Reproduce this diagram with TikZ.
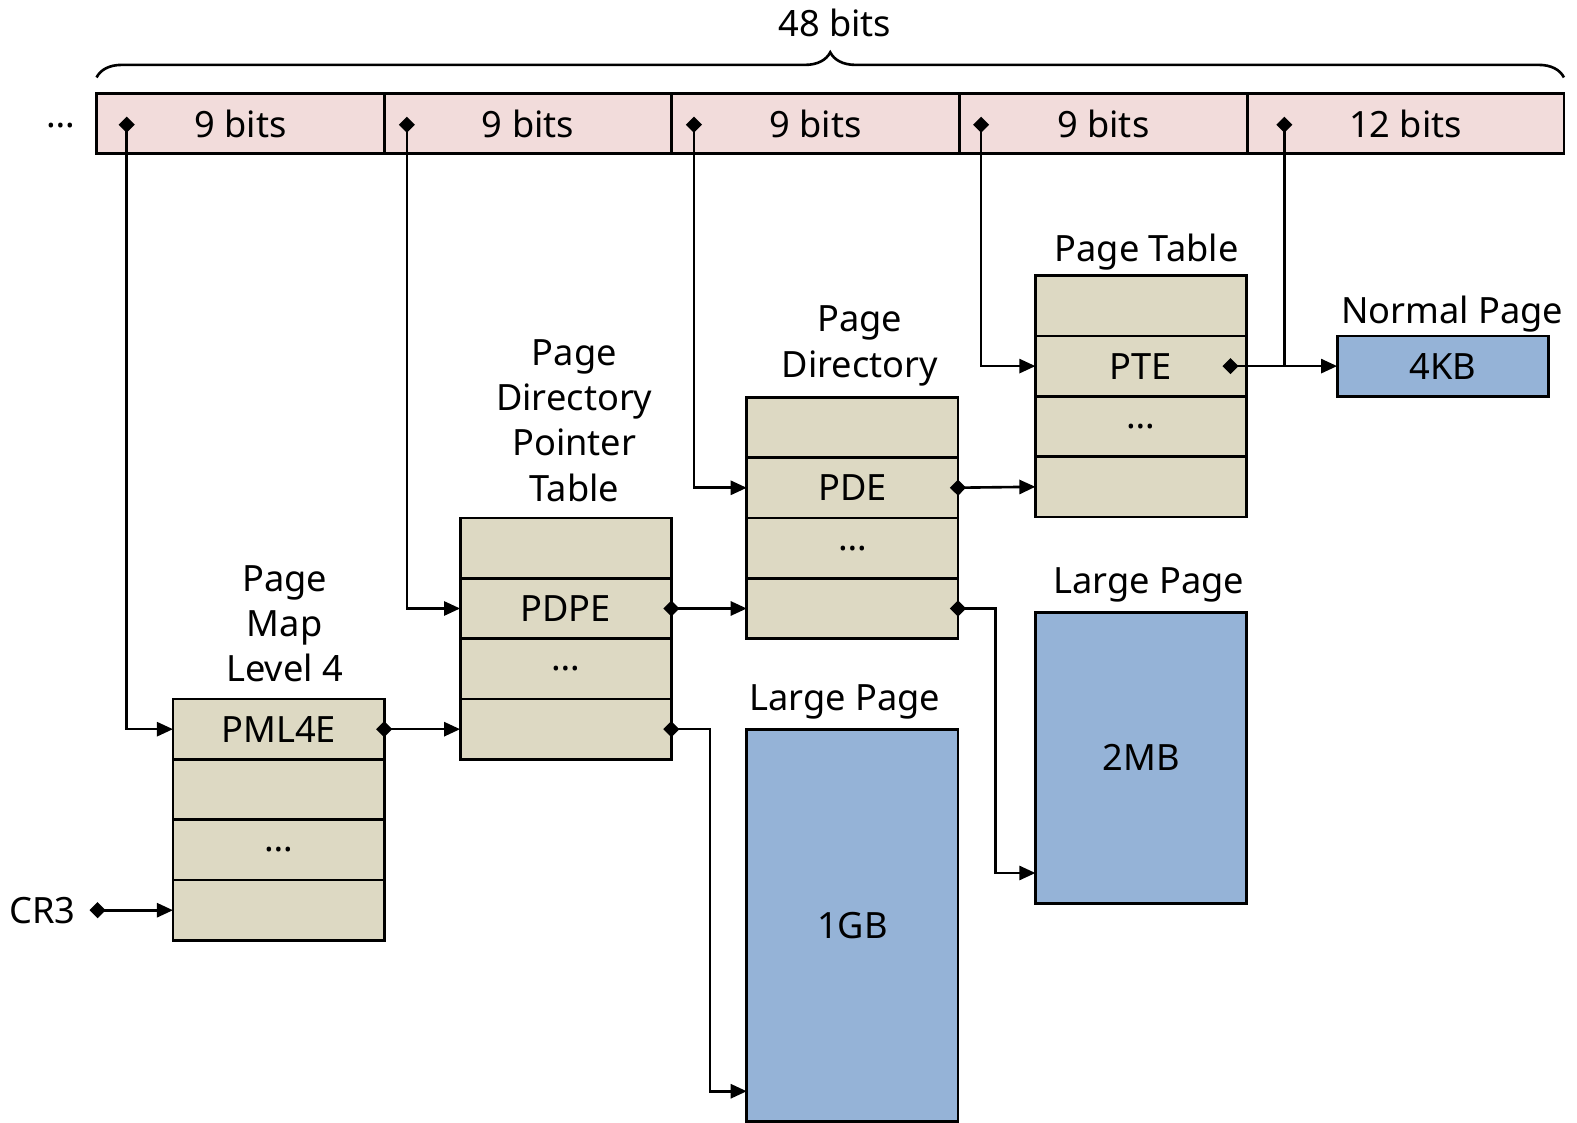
\documentclass[tikz,border=0pt]{standalone}
\usepackage{fontspec}
\setmainfont{Noto Sans}
\usetikzlibrary{arrows.meta,decorations.pathreplacing}
\definecolor{fieldpink}{HTML}{F2DCDB}
\definecolor{tabletan}{HTML}{DDD9C3}
\definecolor{pageblue}{HTML}{95B3D7}

\begin{document}
\begin{tikzpicture}[x=0.5pt,y=-0.5pt,
  every node/.style={font=\fontsize{18}{22.5}\selectfont},
  field/.style={draw, line width=1.4pt, fill=fieldpink, minimum height=30pt, inner sep=0pt, outer sep=0pt},
  entry/.style={draw, line width=1.4pt, fill=tabletan, minimum width=105pt, minimum height=30pt, inner sep=0pt, outer sep=0pt},
  page/.style={draw, line width=1.4pt, fill=pageblue, minimum width=105pt, inner sep=0pt, outer sep=0pt},
  title/.style={align=center, inner sep=0pt},
  conn/.style={line width=1.3pt, {Diamond[length=8pt,width=8pt]}-{Triangle[length=8pt,width=7pt]}},
  tap/.style={line width=1.3pt, {Diamond[length=8pt,width=8pt]}-},
]
\useasboundingbox (0,0) rectangle (1568,1116);

% virtual address fields
\node[field, minimum width=143pt] (f1) at (239,123) {9 bits};
\node[field, minimum width=143pt] (f2) at (525,123) {9 bits};
\node[field, minimum width=143pt] (f3) at (811,123) {9 bits};
\node[field, minimum width=143pt] (f4) at (1097,123) {9 bits};
\node[field, minimum width=157.5pt] (f5) at (1397.5,123) {12 bits};
\node (dots) at (60,125) {…};

% brace over the 48 address bits
\draw[line width=1.3pt, decorate, decoration={brace, amplitude=12.5pt}]
  ([yshift=8pt]f1.north west) -- ([yshift=8pt]f5.north east);
\node (width) at (830,23) {48 bits};

% Page Map Level 4
\node[entry] (pml1) at (277,725) {PML4E};
\node[entry] (pml2) at (277,785) {};
\node[entry] (pml3) at (277,845) {…};
\node[entry] (pml4) at (277,905) {};
\node[title] (tpml) at (283,620) {Page\\Map\\Level 4};

% Page Directory Pointer Table
\node[entry] (pdpt1) at (562.5,545) {};
\node[entry] (pdpt2) at (562.5,605) {PDPE};
\node[entry] (pdpt3) at (562.5,665) {…};
\node[entry] (pdpt4) at (562.5,725) {};
\node[title] (tpdpt) at (571,418) {Page\\Directory\\Pointer\\Table};

% Page Directory
\node[entry] (pd1) at (847.5,425) {};
\node[entry] (pd2) at (847.5,485) {PDE};
\node[entry] (pd3) at (847.5,545) {…};
\node[entry] (pd4) at (847.5,605) {};
\node[title] (tpd) at (855,344) {Page\\Directory};

% Page Table
\node[entry] (pt1) at (1134.5,304) {};
\node[entry] (pt2) at (1134.5,364) {PTE};
\node[entry] (pt3) at (1134.5,424) {…};
\node[entry] (pt4) at (1134.5,484) {};
\node[title] (tpt) at (1140,251) {Page Table};

% physical pages
\node[page, minimum height=30pt] (page4k) at (1434.5,364) {4KB};
\node[title] (tnp) at (1444,312) {Normal Page};
\node[page, minimum height=144.5pt] (page2m) at (1134.5,753.5) {2MB};
\node[title] (tlp2) at (1142,582) {Large Page};
\node[page, minimum height=195pt] (page1g) at (847.5,920) {1GB};
\node[title] (tlp1) at (840,698) {Large Page};

\node (cr3) at (42,905) {CR3};

% index taps in the address fields
\coordinate (s1) at (126,116);
\coordinate (s2) at (404.5,116);
\coordinate (s3) at (690,116);
\coordinate (s4) at (975.5,116);
\coordinate (s5) at (1277,116);
\coordinate (c0) at (89,905);
\coordinate (k1) at (706,1085);
\coordinate (k2) at (990,868);

\draw[conn] (s1) |- (pml1.west);
\draw[conn] (s2) |- (pdpt2.west);
\draw[conn] (s3) |- (pd2.west);
\draw[conn] (s4) |- (pt2.west);
\draw[tap] (s5) -- (s5 |- pt2.east);

% entry to next level
\draw[conn] (c0) -- (pml4.west);
\draw[conn] ([xshift=-4pt]pml1.east) -- (pdpt4.west);
\draw[conn] ([xshift=-4pt]pdpt2.east) -- (pd4.west);
\draw[conn] ([xshift=-4pt]pd2.east) -- (pt4.west);
\draw[conn] ([xshift=-12pt]pt2.east) -- (page4k.west);
\draw[conn] ([xshift=-4pt]pdpt4.east) -| (k1) -- (k1 -| page1g.west);
\draw[conn] ([xshift=-4pt]pd4.east) -| (k2) -- (k2 -| page2m.west);
\end{tikzpicture}
\end{document}
